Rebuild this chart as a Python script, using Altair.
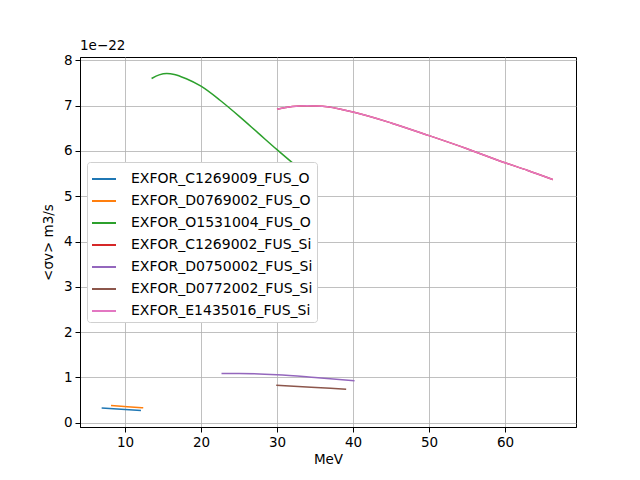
import altair as alt
import pandas as pd

names = ["EXFOR_C1269009_FUS_O", "EXFOR_D0769002_FUS_O", "EXFOR_O1531004_FUS_O",
         "EXFOR_C1269002_FUS_Si", "EXFOR_D0750002_FUS_Si", "EXFOR_D0772002_FUS_Si",
         "EXFOR_E1435016_FUS_Si"]
colors = ["#1f77b4", "#ff7f0e", "#2ca02c", "#d62728", "#9467bd", "#8c564b", "#e377c2"]

c1269009_x = [6.93, 9.5, 12.1]
c1269009_y = [0.325, 0.30, 0.27]
d0769002_x = [8.16, 10.3, 12.4]
d0769002_y = [0.38, 0.355, 0.33]
o1531004_x = [13.5, 14.5, 15.5, 16.5, 18, 20, 22.5, 25, 27.5, 30, 32.8]
o1531004_y = [7.60, 7.68, 7.71, 7.69, 7.60, 7.43, 7.12, 6.77, 6.40, 6.03, 5.63]
c1269002_x = [30, 32, 34, 36, 40, 45, 50, 55, 60, 63, 66.3]
c1269002_y = [6.92, 6.98, 7.00, 6.99, 6.86, 6.62, 6.34, 6.05, 5.74, 5.57, 5.37]
d0750002_x = [22.7, 25, 30, 35, 40.2]
d0750002_y = [1.09, 1.09, 1.06, 1.00, 0.93]
d0772002_x = [29.9, 34.5, 39.1]
d0772002_y = [0.83, 0.785, 0.74]
e1435016_x = [30, 32, 34, 36, 40, 45, 50, 55, 60, 63, 66.3]
e1435016_y = [6.92, 6.98, 7.00, 6.99, 6.86, 6.62, 6.34, 6.05, 5.74, 5.57, 5.37]

xs = [c1269009_x, d0769002_x, o1531004_x, c1269002_x, d0750002_x, d0772002_x, e1435016_x]
ys = [c1269009_y, d0769002_y, o1531004_y, c1269002_y, d0750002_y, d0772002_y, e1435016_y]

rows = []
for n, xx, yy in zip(names, xs, ys):
    for i, (a, b) in enumerate(zip(xx, yy)):
        rows.append({"series": n, "E": a, "sv": b, "i": i})
df = pd.DataFrame(rows)

FONT = "DejaVu Sans"
xscale = alt.Scale(domain=[4.08, 69.34], nice=False, zero=False)
yscale = alt.Scale(domain=[-0.093, 8.075], nice=False, zero=False)
cscale = alt.Scale(domain=names, range=colors)

xaxis = alt.Axis(title="MeV", values=[10, 20, 30, 40, 50, 60], format="d")
yaxis = alt.Axis(title="<σv> m3/s", values=list(range(0, 9)), format="d")
legend = alt.Legend(title=None, orient="none", legendX=7, legendY=105,
                    symbolType="stroke", symbolStrokeWidth=2, symbolSize=576,
                    labelFontSize=14, labelFont=FONT, rowPadding=2,
                    padding=4, strokeColor="#d0d0d0", fillColor="white",
                    cornerRadius=3, labelLimit=300, labelOffset=14)

layers = []
for n in names:
    layers.append(
        alt.Chart(df).transform_filter(alt.datum.series == n)
        .mark_line(strokeWidth=1.5, interpolate="monotone").encode(
            x=alt.X("E:Q", scale=xscale, axis=xaxis),
            y=alt.Y("sv:Q", scale=yscale, axis=yaxis),
            color=alt.Color("series:N", scale=cscale, sort=names, legend=legend),
            order="i:Q",
        )
    )

offset = alt.Chart(pd.DataFrame({"t": ["1e\u221222"]})).mark_text(
    align="left", baseline="bottom", fontSize=13.5, font=FONT, color="black"
).encode(x=alt.value(0), y=alt.value(-4), text="t:N")

chart = alt.layer(*layers, offset).properties(
    width=496, height=370,
    autosize=alt.AutoSizeParams(type="none"),
    padding={"left": 80, "top": 57, "right": 64, "bottom": 53},
).configure_view(stroke="black", strokeWidth=1).configure_axis(
    grid=True, gridColor="#b0b0b0", gridWidth=0.8,
    domainColor="black", domainWidth=1, tickColor="black", tickSize=5, tickWidth=1,
    labelFont=FONT, labelFontSize=13.5, labelColor="black", labelPadding=3,
    titleFont=FONT, titleFontSize=13.5, titleFontWeight="normal", titleColor="black",
).configure_axisX(titlePadding=4).configure_axisY(titlePadding=8)

chart.save("out.html", embed_options={"renderer": "svg", "actions": False})
